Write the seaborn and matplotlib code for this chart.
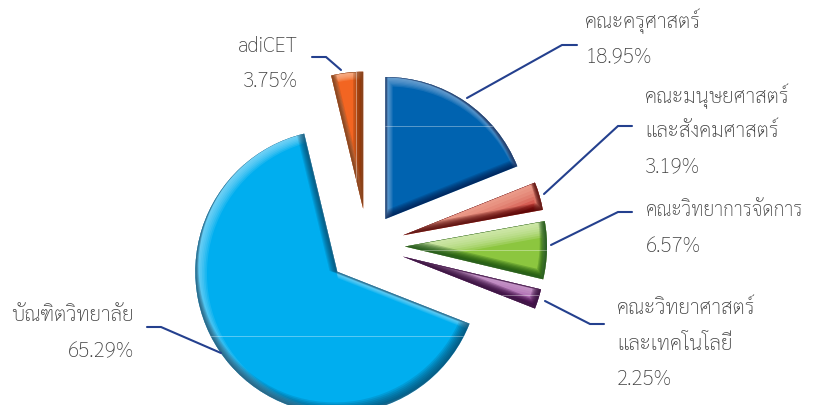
import matplotlib
matplotlib.use('Agg')
import matplotlib.pyplot as plt
from matplotlib.patches import PathPatch
from matplotlib.transforms import Affine2D
import seaborn as sns

# Share of each faculty, clockwise from 12 o'clock
faculties = ['คณะครุศาสตร์', 'คณะมนุษยศาสตร์\nและสังคมศาสตร์', 'คณะวิทยาการจัดการ',
             'คณะวิทยาศาสตร์\nและเทคโนโลยี', 'บัณฑิตวิทยาลัย', 'adiCET']
shares = [18.95, 3.19, 6.57, 2.25, 65.29, 3.75]

base_colors = ['#0063B0', '#C4201F', '#8CC63F', '#86208A', '#00AEEF', '#F26522']
light_colors = ['#9DBDE0', '#F2B09C', '#DCEFBE', '#D0A8D2', '#A6E4FA', '#FBC09E']
dark_colors = ['#020F3C', '#4E0404', '#0C4508', '#2A0430', '#0A3A58', '#6E2C06']
line_color = '#24408E'
text_color = '#3F3F3F'

# Wedge styling, in pixels: how far each slice is pulled out, bevel widths
pull = [32, 37, 37.5, 37, 40, 37]
light_w = [5, 11, 8, 9, 6, 4]
dark_w = [4, 4, 5, 5, 6, 7]
bevel_alpha = [0.15, 0.24, 0.22, 0.24, 0.15, 0.2]
shine_y = [279, None, 155, 110, 69, None]  # thin highlight line height
radius = 142

sns.set_theme(style='white')
plt.rcParams['font.family'] = ['Sarabun', 'DejaVu Sans']

fig = plt.figure(figsize=(8.27, 4.06), dpi=100)
ax = fig.add_axes([0, 0, 1, 1])
wedges, _ = ax.pie(shares, colors=sns.color_palette(base_colors), startangle=90, counterclock=False,
                   explode=pull, radius=radius, center=(367.5, 159.5), frame=False)
wedges[5].set_radius(137)  # orange slice is a touch shorter
ax.set_xlim(0, 827)
ax.set_ylim(0, 406)
ax.set_aspect('equal')
ax.axis('off')


# Inner bevel: outlines shifted along the light direction and clipped to the wedge
def bevel(wedge, color, width, sx, sy, alpha):
    path = wedge.get_path()
    n = 7
    for i in range(n, 0, -1):
        t = width * i / n
        moved = path.transformed(Affine2D().translate(sx * t, sy * t))
        p = PathPatch(moved, fill=False, edgecolor=color, lw=2 * t * 0.72, alpha=alpha, zorder=3)
        ax.add_patch(p)
        p.set_clip_path(wedge)


for i, w in enumerate(wedges):
    w.set_linewidth(0)
    # big slice: light runs along its lower edge so that edge stays clean
    lx, ly = (0.94, -0.34) if i == 4 else (0.45, -0.89)
    bevel(w, light_colors[i], light_w[i], lx, ly, bevel_alpha[i])
    bevel(w, dark_colors[i], dark_w[i], -0.45, 0.89, bevel_alpha[i])
    if shine_y[i] is not None:
        ln, = ax.plot([0, 827], [shine_y[i]] * 2, color='white', lw=0.7, alpha=0.35, zorder=4)
        ln.set_clip_path(w)

# orange slice has its highlight running vertically
ln, = ax.plot([356, 356], [0, 406], color='white', lw=0.7, alpha=0.4, zorder=4)
ln.set_clip_path(wedges[5])

# Leader lines, written top-down in picture pixels
leaders = [[(467, 99), (562, 46), (577, 46)],
           [(544, 195), (618, 127), (632, 127)],
           [(551, 246), (618, 213), (632, 213)],
           [(545, 302), (590, 325), (604, 325)],
           [(221, 354), (161, 328), (147, 328)],
           [(341, 71), (326, 58), (312, 58)]]
for pts in leaders:
    ax.plot([p[0] for p in pts], [406 - p[1] for p in pts], color=line_color, lw=1.5, zorder=5,
            solid_joinstyle='miter')

# Label anchors: x, y of first line, alignment
label_pos = [(585, 21, 'left'), (645, 96, 'left'), (646, 211, 'left'),
             (617, 309, 'left'), (134, 316, 'right'), (238, 46, 'left')]
line_gap = 35.5
for name, val, (x, y, ha) in zip(faculties, shares, label_pos):
    rows = name.split('\n')
    for j, row in enumerate(rows):
        size = 14 if len(row) > 15 else 15
        ax.text(x, 406 - (y + j * line_gap), row, ha=ha, va='center', fontsize=size, fontweight='light',
                color=text_color)
    px = 243 if name == 'adiCET' else x
    ax.text(px, 406 - (y + len(rows) * line_gap), f'{val:.2f}%', ha=ha, va='center', fontsize=15,
            fontweight='light', color=text_color)

fig.savefig('out.png', dpi=100)
